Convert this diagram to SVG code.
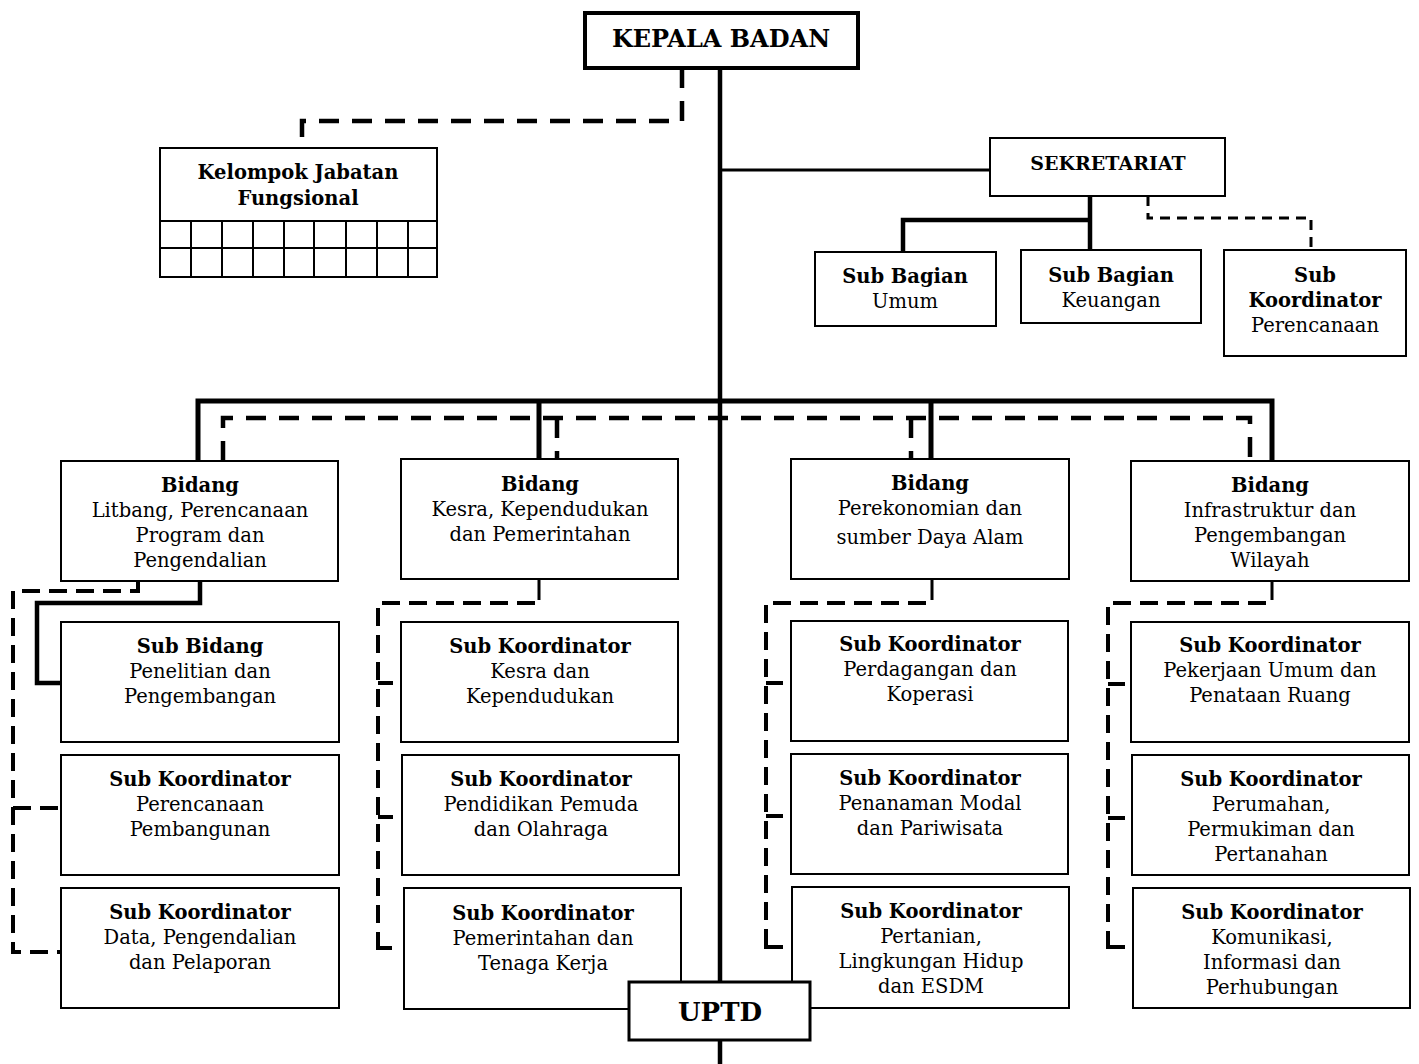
<svg xmlns="http://www.w3.org/2000/svg" width="1419" height="1064" viewBox="0 0 1419 1064">
<style>
.box{fill:#fff;stroke:#000;stroke-width:2}
.t{font-family:"DejaVu Serif","Liberation Serif",serif;font-size:19.5px;text-anchor:middle;fill:#000}
.b{font-weight:bold}
.solid{fill:none;stroke:#000;stroke-width:4.5}
.med{fill:none;stroke:#000;stroke-width:3}
.tick{fill:none;stroke:#000;stroke-width:4}
.dh{fill:none;stroke:#000;stroke-width:4.5;stroke-dasharray:20 13}
.dv{fill:none;stroke:#000;stroke-width:4;stroke-dasharray:18 9}
.thin{fill:none;stroke:#000;stroke-width:3;stroke-dasharray:10 7}
</style>
<g id="connectors">
<path class="solid" d="M720 66 V1064"/>
<path class="med" d="M720 170 H990"/>
<path class="dh" d="M682 68 V121 H302 V148"/>
<path class="solid" d="M1090 196 V250 M1090 220 H903 V252"/>
<path class="thin" d="M1148 196 V218 H1311 V250"/>
<path class="solid" style="stroke-width:5" d="M198 461 V401 H1272 V461 M539 401 V459 M931 401 V459"/>
<path class="dh" d="M223 461 V418 H1250 V461"/>
<path class="dh" d="M557 418 V459 M911 418 V459"/>
<path class="dv" d="M138 581 V591 H13 V952 H61 M13 808 H61"/>
<path class="solid" d="M200 581 V603 H37 V683 H61"/>
<path class="med" d="M539 579 V600 M932 579 V600 M1272 581 V600"/>
<path class="dv" d="M535 603 H378 V940"/>
<path class="tick" d="M378 683 H393 M378 817 H393 M378 938 V948 H392"/>
<path class="dv" d="M926 603 H766 V940"/>
<path class="tick" d="M766 683 H783 M766 816 H783 M766 937 V947 H783"/>
<path class="dv" d="M1266 603 H1108 V940"/>
<path class="tick" d="M1108 684 H1125 M1108 818 H1125 M1108 937 V947 H1125"/>
</g>
<g id="kepala">
<rect class="box" style="stroke-width:4" x="585" y="13" width="273" height="55"/>
<text class="t b" style="font-size:24px" x="721" y="47">KEPALA BADAN</text>
</g>
<g id="kelompok">
<rect class="box" x="160" y="148" width="277" height="129"/>
<path class="med" style="stroke-width:2" d="M160 221 H437 M160 248 H437 M191 221 V277 M222 221 V277 M253 221 V277 M284 221 V277 M314 221 V277 M346 221 V277 M377 221 V277 M408 221 V277"/>
<text class="t b" x="298" y="179">Kelompok Jabatan</text>
<text class="t b" x="298" y="205">Fungsional</text>
</g>
<g id="sekretariat">
<rect class="box" x="990" y="138" width="235" height="58"/>
<text class="t b" style="font-size:19px" x="1108" y="170">SEKRETARIAT</text>
</g>
<g id="sb-umum">
<rect class="box" x="815" y="252" width="181" height="74"/>
<text class="t b" x="905" y="283">Sub Bagian</text>
<text class="t" x="905" y="308">Umum</text>
</g>
<g id="sb-keuangan">
<rect class="box" x="1021" y="250" width="180" height="73"/>
<text class="t b" x="1111" y="282">Sub Bagian</text>
<text class="t" x="1111" y="307">Keuangan</text>
</g>
<g id="sk-perencanaan">
<rect class="box" x="1224" y="250" width="182" height="106"/>
<text class="t b" x="1315" y="282">Sub</text>
<text class="t b" x="1315" y="307">Koordinator</text>
<text class="t" x="1315" y="332">Perencanaan</text>
</g>
<g id="bidang-litbang">
<rect class="box" x="61" y="461" width="277" height="120"/>
<text class="t b" x="200" y="492">Bidang</text>
<text class="t" x="200" y="517">Litbang, Perencanaan</text>
<text class="t" x="200" y="542">Program dan</text>
<text class="t" x="200" y="567">Pengendalian</text>
</g>
<g id="bidang-kesra">
<rect class="box" x="401" y="459" width="277" height="120"/>
<text class="t b" x="540" y="491">Bidang</text>
<text class="t" x="540" y="516">Kesra, Kependudukan</text>
<text class="t" x="540" y="541">dan Pemerintahan</text>
</g>
<g id="bidang-perekonomian">
<rect class="box" x="791" y="459" width="278" height="120"/>
<text class="t b" x="930" y="490">Bidang</text>
<text class="t" x="930" y="515">Perekonomian dan</text>
<text class="t" x="930" y="544">sumber Daya Alam</text>
</g>
<g id="bidang-infrastruktur">
<rect class="box" x="1131" y="461" width="278" height="120"/>
<text class="t b" x="1270" y="492">Bidang</text>
<text class="t" x="1270" y="517">Infrastruktur dan</text>
<text class="t" x="1270" y="542">Pengembangan</text>
<text class="t" x="1270" y="567">Wilayah</text>
</g>
<g id="sub-bidang-penelitian">
<rect class="box" x="61" y="622" width="278" height="120"/>
<text class="t b" x="200" y="653">Sub Bidang</text>
<text class="t" x="200" y="678">Penelitian dan</text>
<text class="t" x="200" y="703">Pengembangan</text>
</g>
<g id="sk-perencanaan-pembangunan">
<rect class="box" x="61" y="755" width="278" height="120"/>
<text class="t b" x="200" y="786">Sub Koordinator</text>
<text class="t" x="200" y="811">Perencanaan</text>
<text class="t" x="200" y="836">Pembangunan</text>
</g>
<g id="sk-data">
<rect class="box" x="61" y="888" width="278" height="120"/>
<text class="t b" x="200" y="919">Sub Koordinator</text>
<text class="t" x="200" y="944">Data, Pengendalian</text>
<text class="t" x="200" y="969">dan Pelaporan</text>
</g>
<g id="sk-kesra">
<rect class="box" x="401" y="622" width="277" height="120"/>
<text class="t b" x="540" y="653">Sub Koordinator</text>
<text class="t" x="540" y="678">Kesra dan</text>
<text class="t" x="540" y="703">Kependudukan</text>
</g>
<g id="sk-pendidikan">
<rect class="box" x="402" y="755" width="277" height="120"/>
<text class="t b" x="541" y="786">Sub Koordinator</text>
<text class="t" x="541" y="811">Pendidikan Pemuda</text>
<text class="t" x="541" y="836">dan Olahraga</text>
</g>
<g id="sk-pemerintahan">
<rect class="box" x="404" y="888" width="277" height="121"/>
<text class="t b" x="543" y="920">Sub Koordinator</text>
<text class="t" x="543" y="945">Pemerintahan dan</text>
<text class="t" x="543" y="970">Tenaga Kerja</text>
</g>
<g id="sk-perdagangan">
<rect class="box" x="791" y="621" width="277" height="120"/>
<text class="t b" x="930" y="651">Sub Koordinator</text>
<text class="t" x="930" y="676">Perdagangan dan</text>
<text class="t" x="930" y="701">Koperasi</text>
</g>
<g id="sk-penanaman">
<rect class="box" x="791" y="754" width="277" height="120"/>
<text class="t b" x="930" y="785">Sub Koordinator</text>
<text class="t" x="930" y="810">Penanaman Modal</text>
<text class="t" x="930" y="835">dan Pariwisata</text>
</g>
<g id="sk-pertanian">
<rect class="box" x="792" y="887" width="277" height="121"/>
<text class="t b" x="931" y="918">Sub Koordinator</text>
<text class="t" x="931" y="943">Pertanian,</text>
<text class="t" x="931" y="968">Lingkungan Hidup</text>
<text class="t" x="931" y="993">dan ESDM</text>
</g>
<g id="sk-pekerjaan">
<rect class="box" x="1131" y="622" width="278" height="120"/>
<text class="t b" x="1270" y="652">Sub Koordinator</text>
<text class="t" x="1270" y="677">Pekerjaan Umum dan</text>
<text class="t" x="1270" y="702">Penataan Ruang</text>
</g>
<g id="sk-perumahan">
<rect class="box" x="1132" y="755" width="277" height="120"/>
<text class="t b" x="1271" y="786">Sub Koordinator</text>
<text class="t" x="1271" y="811">Perumahan,</text>
<text class="t" x="1271" y="836">Permukiman dan</text>
<text class="t" x="1271" y="861">Pertanahan</text>
</g>
<g id="sk-komunikasi">
<rect class="box" x="1133" y="888" width="277" height="120"/>
<text class="t b" x="1272" y="919">Sub Koordinator</text>
<text class="t" x="1272" y="944">Komunikasi,</text>
<text class="t" x="1272" y="969">Informasi dan</text>
<text class="t" x="1272" y="994">Perhubungan</text>
</g>
<g id="uptd">
<rect class="box" style="stroke-width:3" x="629" y="982" width="181" height="58"/>
<text class="t b" style="font-size:26px" x="720" y="1021">UPTD</text>
</g>
</svg>
